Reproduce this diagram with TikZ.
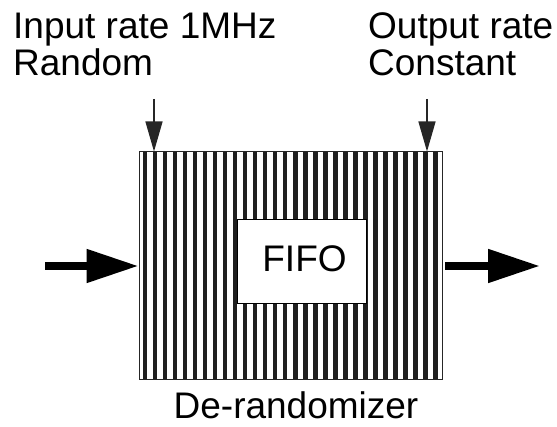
\documentclass[tikz,border=0pt]{standalone}
\usepackage{fontspec}
\setmainfont{Liberation Sans}
\usetikzlibrary{arrows.meta}
\begin{document}
\begin{tikzpicture}[x=1pt,y=-1pt,
  lbl/.style={inner sep=0pt,anchor=base west,font=\fontsize{37}{37}\selectfont},
  bigarrow/.style={line width=8pt,-{Triangle[length=52pt,width=32pt]}},
  smallarrow/.style={line width=1.3pt,-{Triangle[length=30pt,width=17pt]}},
  stripe/.style={fill=black!88,draw=none}]
\useasboundingbox (0,0) rectangle (557,427);
% main striped box
\node[draw=black!85,line width=1pt,minimum width=303pt,minimum height=228pt,inner sep=0pt] (box) at (290.5,266) {};
\foreach \k in {0,...,29}{
  \fill[stripe] (142.6+10.02*\k,152.5) rectangle (147.2+10.02*\k,379.5);
}
% FIFO box
\node[draw=black,fill=white,line width=1pt,minimum width=129pt,minimum height=84pt,inner sep=0pt] (fifo) at (301.5,262) {};
\node[lbl,anchor=base] (fifotext) at (304.5,272) {FIFO};
% labels
\node[lbl] (in1) at (13,39) {Input rate 1MHz};
\node[lbl] (in2) at (13,76) {Random};
\node[lbl] (out1) at (368,39) {Output rate};
\node[lbl] (out2) at (368,76) {Constant};
\node[lbl,anchor=base] (name) at (296,419) {De-randomizer};
% arrows
\coordinate (inS) at (45,266);
\coordinate (outE) at (540,266);
\coordinate (outS) at (445,266);
\coordinate (dl) at (154,99);
\coordinate (dr) at (427,99);
\draw[bigarrow] (inS) -- (box.west);
\draw[bigarrow] (outS) -- (outE);
\draw[smallarrow,black!85] (dl) -- (dl |- box.north);
\draw[smallarrow,black!85] (dr) -- (dr |- box.north);
\end{tikzpicture}
\end{document}
